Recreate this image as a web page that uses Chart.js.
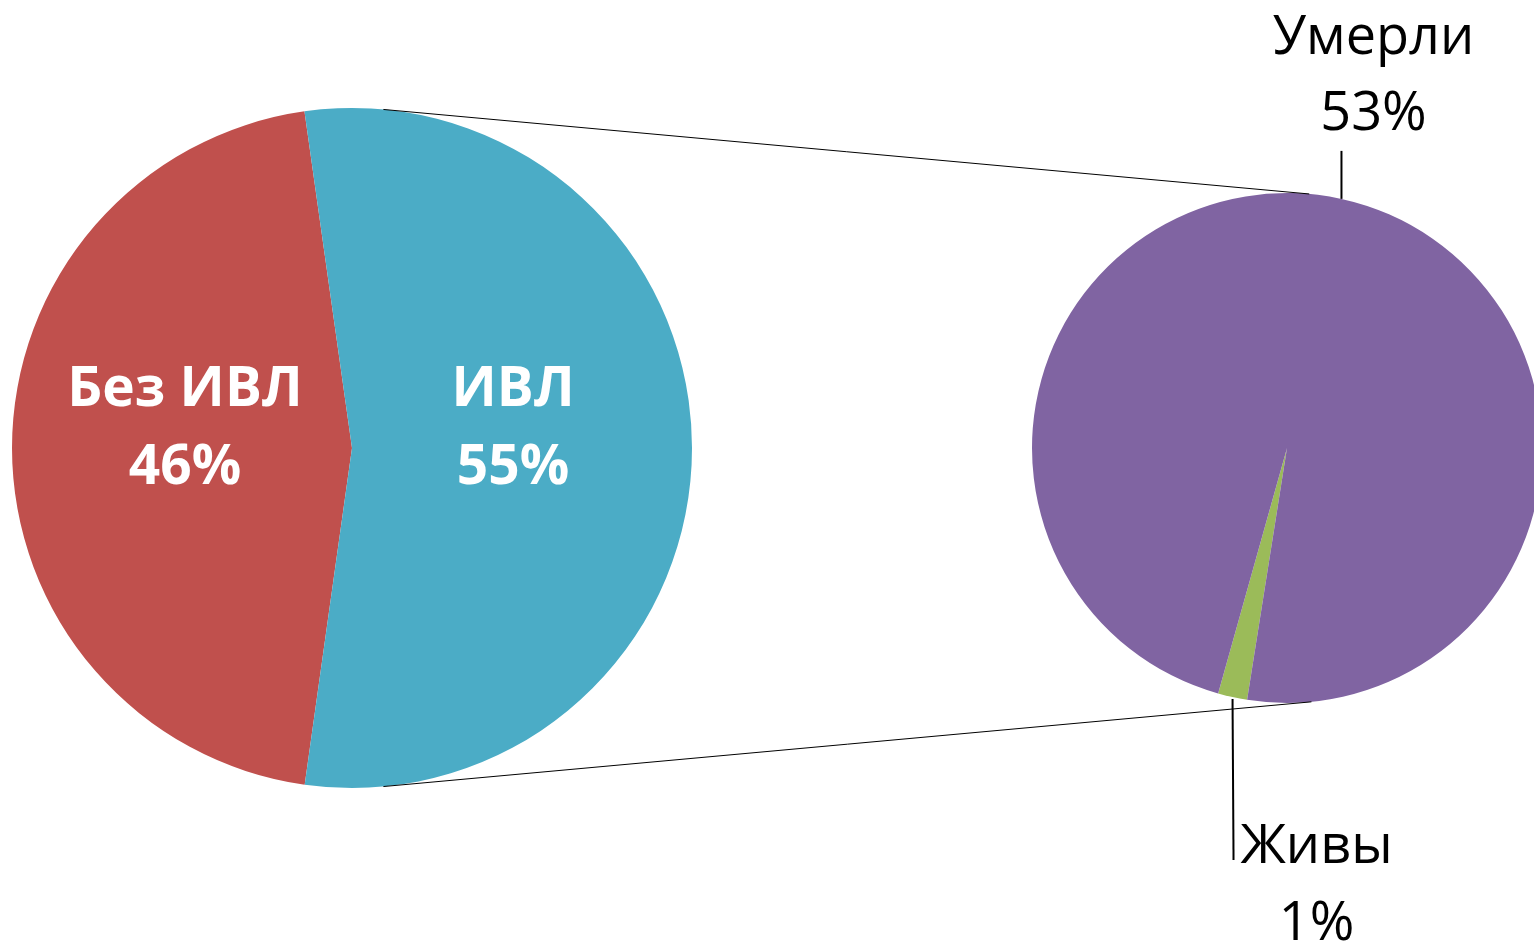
<!DOCTYPE html>
<html lang="ru">
<head>
<meta charset="utf-8">
<title>ИВЛ — исходы</title>
<script src="https://cdn.jsdelivr.net/npm/chart.js@4/dist/chart.umd.min.js"></script>
<style>
    html, body { margin: 0; padding: 0; background: #ffffff; overflow: hidden; }
    #wrap { position: relative; width: 1534px; height: 947px; overflow: hidden; }
    #wrap canvas { position: absolute; left: 0; top: 0; }
</style>
</head>
<body>
<div id="wrap">
    <canvas id="mainPie" width="1534" height="947"></canvas>
    <canvas id="subPie" width="1545" height="947"></canvas>
</div>
<script>
// Primary pie: all patients
const mainLabels = ['Без ИВЛ', 'ИВЛ'];
const mainValues = [46, 55];
const mainColors = ['#C0504D', '#4BACC6'];

// Secondary pie: outcome of the ventilated group (share of all patients)
const subLabels = ['Живы', 'Умерли'];
const subValues = [1, 53];
const subColors = ['#9BBB59', '#8064A2'];

const FONT = '"Open Sans", "DejaVu Sans", sans-serif';

// White bold labels inside the big pie
const innerLabels = {
    id: 'innerLabels',
    afterDatasetsDraw(chart) {
        const ctx = chart.ctx;
        const meta = chart.getDatasetMeta(0);
        ctx.save();
        ctx.fillStyle = '#ffffff';
        ctx.font = 'bold 55px ' + FONT;
        ctx.textAlign = 'center';
        ctx.textBaseline = 'middle';
        meta.data.forEach((arc, i) => {
            const p = arc.tooltipPosition();
            // nudge toward the pie centre a little
            const dx = p.x < arc.x ? 3 : -9;
            ctx.fillText(mainLabels[i], p.x + dx, p.y - 58);
            ctx.fillText(mainValues[i] + '%', p.x + dx, p.y + 20);
        });
        ctx.restore();
    }
};

// Point on a pie's rim, angle in degrees clockwise from 12 o'clock
function rimPoint(arc, deg) {
    const a = deg * Math.PI / 180;
    return { x: arc.x + arc.outerRadius * Math.sin(a), y: arc.y - arc.outerRadius * Math.cos(a) };
}

// Connector lines between the pies plus the outside labels with leaders
const outsideLabels = {
    id: 'outsideLabels',
    afterDatasetsDraw(chart) {
        const ctx = chart.ctx;
        const meta = chart.getDatasetMeta(0);
        const mainArc = window.mainChart.getDatasetMeta(0).data[0];
        const subArc = meta.data[0];

        ctx.save();
        ctx.strokeStyle = '#000000';
        ctx.lineWidth = 1;
        const a1 = rimPoint(mainArc, 5.3), b1 = rimPoint(subArc, 5);
        const a2 = rimPoint(mainArc, 174.7), b2 = rimPoint(subArc, 174.5);
        ctx.beginPath();
        ctx.moveTo(a1.x, a1.y); ctx.lineTo(b1.x, b1.y);
        ctx.moveTo(a2.x, a2.y); ctx.lineTo(b2.x, b2.y);
        ctx.stroke();

        ctx.font = '54px ' + FONT;
        ctx.fillStyle = '#000000';
        ctx.textAlign = 'center';
        ctx.textBaseline = 'middle';
        ctx.lineWidth = 2;

        meta.data.forEach((arc, i) => {
            const mid = (arc.startAngle + arc.endAngle) / 2;
            const x = arc.x + arc.outerRadius * Math.cos(mid);
            const y = arc.y + arc.outerRadius * Math.sin(mid);
            ctx.beginPath();
            if (y < arc.y) {
                // leader goes up, label block above it
                ctx.moveTo(x, y);
                ctx.lineTo(x, y - 48);
                ctx.stroke();
                ctx.fillText(subLabels[i], x + 32, y - 160);
                ctx.fillText(subValues[i] + '%', x + 32, y - 84);
            } else {
                // leader goes down, label block to the right of its end
                ctx.moveTo(x, y + 2);
                ctx.lineTo(x + 1, y + 163);
                ctx.stroke();
                ctx.fillText(subLabels[i], x + 84, y + 150);
                ctx.fillText(subValues[i] + '%', x + 84, y + 227);
            }
        });
        ctx.restore();
    }
};

window.mainChart = new Chart(document.getElementById('mainPie'), {
    type: 'pie',
    data: {
        labels: mainLabels,
        datasets: [{ data: mainValues, backgroundColor: mainColors, borderWidth: 0 }]
    },
    options: {
        responsive: false,
        animation: false,
        rotation: 188,
        layout: { padding: { left: 12, top: 108, right: 842, bottom: 159 } },
        plugins: { legend: { display: false }, tooltip: { enabled: false } }
    },
    plugins: [innerLabels]
});

window.subChart = new Chart(document.getElementById('subPie'), {
    type: 'pie',
    data: {
        labels: subLabels,
        datasets: [{ data: subValues, backgroundColor: subColors, borderWidth: 0 }]
    },
    options: {
        responsive: false,
        animation: false,
        rotation: 189,
        layout: { padding: { left: 1032, top: 193, right: 3, bottom: 244 } },
        plugins: { legend: { display: false }, tooltip: { enabled: false } }
    },
    plugins: [outsideLabels]
});
</script>
</body>
</html>
